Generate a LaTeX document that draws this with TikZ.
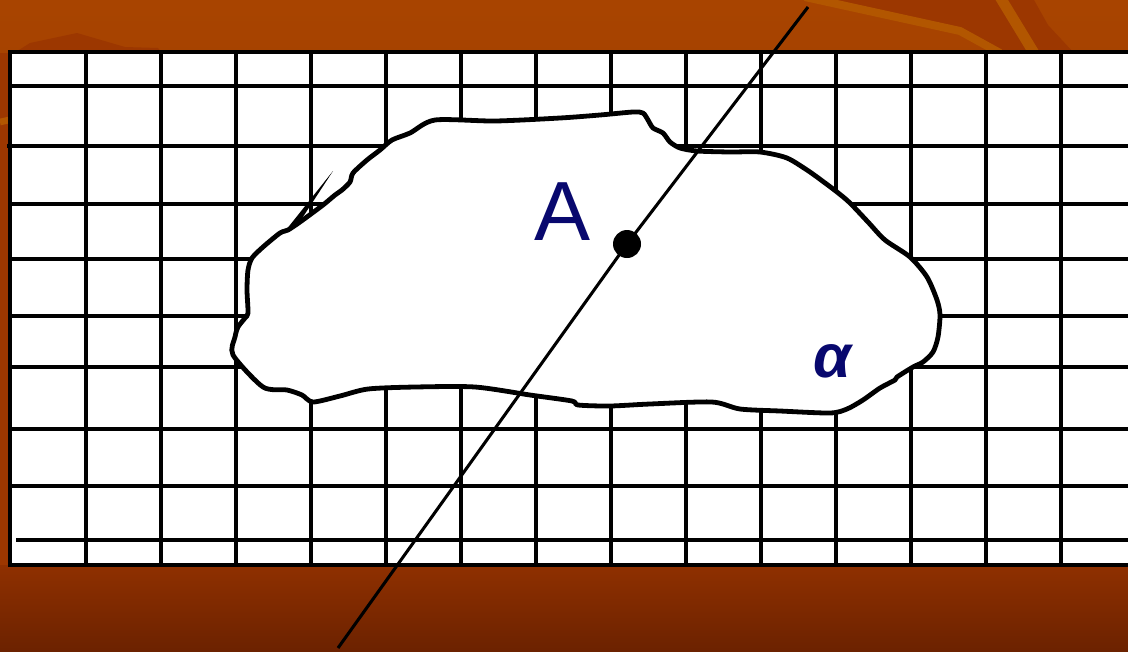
\documentclass[tikz,border=0pt]{standalone}
\usepackage{fontspec}
\setmainfont{Liberation Sans}
\definecolor{bgtop}{RGB}{168,68,0}
\definecolor{bgmid}{RGB}{150,54,0}
\definecolor{bglow}{RGB}{143,48,0}
\definecolor{bgbot}{RGB}{108,34,0}
\definecolor{bgdark}{RGB}{156,55,0}
\definecolor{stripecol}{RGB}{178,86,0}
\definecolor{navy}{RGB}{8,8,110}
\begin{document}
\begin{tikzpicture}[x=0.75pt,y=-0.75pt,
  gridline/.style={line width=2.4pt, black},
  borderline/.style={line width=3pt, black, line join=miter},
  blobline/.style={line width=3.6pt, black, fill=white, line join=round},
  transversal/.style={line width=2.3pt, black},
  dotnode/.style={circle, fill=black, minimum size=21pt, inner sep=0pt},
  lbl/.style={text=navy, inner sep=0pt},
  stripe/.style={stripecol, line width=6pt}]
\useasboundingbox (0,0) rectangle (1128,651);
% background
\shade[top color=bgtop, bottom color=bgmid] (0,0) rectangle (1128,565);
\shade[top color=bglow, bottom color=bgbot] (0,565) rectangle (1128,651);
\fill[bgdark] (0,62) -- (30,43) -- (77,33) -- (125,47) -- (158,48) -- (162,53) -- (0,53) -- cycle;
\fill[bgdark] (818,0) -- (1034,0) -- (1048,25) -- (1074,53) -- (1000,53) -- (960,32) -- cycle;
\fill[bgdark] (0,53) rectangle (8,565);
\draw[stripe] (805,-3) -- (960,31) -- (1000,53);
\draw[stripe, line width=8pt] (1000,-3) -- (1034,53);
\draw[stripe, line width=5pt] (0,122) -- (9,120);
% grid
\fill[white] (10,52) rectangle (1128,565);
\foreach \gx in {86,161,236,311,386,461,536,611,686,761,836,911,986,1061}
  \draw[gridline] (\gx,52) -- (\gx,565);
\foreach \gy in {86,204,259,316,367,429,486}
  \draw[gridline] (10,\gy) -- (1128,\gy);
\draw[gridline] (7,146) -- (1128,146);
\draw[gridline] (16,540) -- (1128,540);
\draw[borderline] (1131,52) -- (10,52) -- (10,565) -- (1131,565);
% blob
\draw[blobline] plot[smooth cycle, tension=0.45] coordinates {
 (435,120) (495,121) (560,118) (600,115) (633,112) (643,113) (648,120) (653,128)
 (663,133) (670,142) (680,148) (697,151) (730,152) (760,152) (787,158) (810,172)
 (817,177) (837,192) (850,203) (868,222) (885,240) (910,257) (927,277) (937,300)
 (940,315) (938,337) (933,352) (923,362) (913,367) (897,377) (895,380) (880,388)
 (863,400) (847,409) (830,413) (780,411) (740,409) (712,402) (650,404) (610,406)
 (578,405) (572,401) (530,395) (475,387) (415,387) (368,389) (340,396) (313,402)
 (302,395) (287,390) (263,387) (233,355) (235,337) (238,327) (245,318) (248,313)
 (247,290) (248,270) (252,258) (263,247) (280,233) (288,230) (300,222) (323,205)
 (335,195) (342,190) (350,182) (353,173) (367,160) (380,150) (392,140) (410,133)};
\fill[black] (286,230) -- (333,171) -- (297,226) -- cycle;
% transversal and point
\coordinate (top) at (808,7);
\coordinate (bot) at (338,648);
\node[dotnode] (A) at (627,244) {};
\draw[transversal] (top) -- (A.center) -- (bot);
% labels
\node[lbl, font=\fontsize{63}{63}\selectfont] (labelA) at (563,212) {A};
\node[lbl, font=\fontsize{46}{46}\selectfont\bfseries\itshape] (labelalpha) at (833,361) {α};
\end{tikzpicture}
\end{document}
